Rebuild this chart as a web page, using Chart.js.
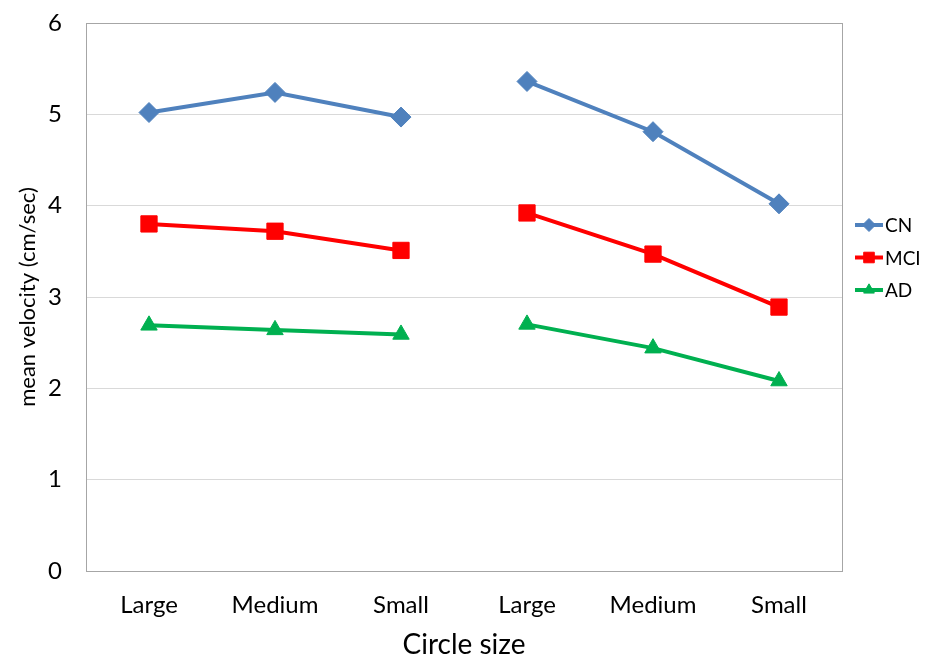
<!DOCTYPE html>
<html>
<head>
<meta charset="utf-8">
<script src="https://cdn.jsdelivr.net/npm/chart.js@4/dist/chart.umd.min.js"></script>
<style>
  html, body { margin: 0; padding: 0; background: #fff; }
  #wrap { width: 931px; height: 659px; position: relative; }
</style>
</head>
<body>
<div id="wrap"><canvas id="c" width="931" height="659"></canvas></div>
<script>
const categories = ["Large", "Medium", "Small", "Large", "Medium", "Small"];
const seriesNames = ["CN", "MCI", "AD"];
const cnValues  = [5.02, 5.24, 4.97, 5.36, 4.81, 4.02];
const mciValues = [3.80, 3.72, 3.51, 3.92, 3.47, 2.89];
const adValues  = [2.69, 2.64, 2.59, 2.70, 2.44, 2.08];
const yTicks = [0, 1, 2, 3, 4, 5, 6];
const xTitle = "Circle size";
const yTitle = "mean velocity (cm/sec)";

const FONT = "Lato, 'Open Sans', sans-serif";
const gapAfterIndex = 2; // lines break between the two groups

function makeDataset(label, data, color, style, radius) {
  return {
    label, data,
    borderColor: color,
    backgroundColor: color,
    pointBackgroundColor: color,
    pointBorderColor: color,
    pointBorderWidth: 1,
    borderWidth: 4,
    pointStyle: style,
    pointRadius: radius,
    pointHoverRadius: radius,
    tension: 0,
    segment: {
      borderColor: ctx => ctx.p0DataIndex === gapAfterIndex ? 'rgba(0,0,0,0)' : color
    }
  };
}

const frame = {
  id: 'frame',
  beforeDatasetsDraw(chart) {
    const a = chart.chartArea, ctx = chart.ctx;
    ctx.save();
    ctx.strokeStyle = '#a6a6a6';
    ctx.lineWidth = 1;
    ctx.strokeRect(Math.round(a.left) + 0.5, Math.round(a.top) + 0.5,
                   Math.round(a.right - a.left), Math.round(a.bottom - a.top));
    ctx.restore();
  }
};

const customLegend = {
  id: 'customLegend',
  afterDraw(chart) {
    const a = chart.chartArea, ctx = chart.ctx;
    const x0 = a.right + 13, lineW = 28, gap = 32.5;
    const y0 = a.top + 202;
    ctx.save();
    chart.data.datasets.forEach((ds, i) => {
      const y = y0 + i * gap;
      ctx.strokeStyle = ds.borderColor;
      ctx.fillStyle = ds.borderColor;
      ctx.lineWidth = 4;
      ctx.beginPath();
      ctx.moveTo(x0, y);
      ctx.lineTo(x0 + lineW, y);
      ctx.stroke();
      ctx.lineWidth = 1;
      Chart.helpers.drawPoint(ctx, {
        pointStyle: ds.pointStyle,
        radius: ds.pointRadius * 0.65,
        rotation: 0,
        borderWidth: 1
      }, x0 + lineW / 2, y);
      ctx.fillStyle = '#000';
      ctx.font = "19px " + FONT;
      ctx.textBaseline = 'middle';
      ctx.textAlign = 'left';
      ctx.fillText(ds.label, x0 + lineW + 2, y + 1);
    });
    ctx.restore();
  }
};

new Chart(document.getElementById('c'), {
  type: 'line',
  data: {
    labels: categories,
    datasets: [
      makeDataset(seriesNames[0], cnValues, '#4F81BD', 'rectRot', 10),
      makeDataset(seriesNames[1], mciValues, '#FF0000', 'rect', 11.5),
      makeDataset(seriesNames[2], adValues, '#00B050', 'triangle', 9.5)
    ]
  },
  options: {
    responsive: false,
    animation: false,
    devicePixelRatio: 1,
    layout: { padding: { left: 0, right: 89, top: 23, bottom: 0 } },
    plugins: {
      legend: { display: false },
      tooltip: { enabled: false },
      title: { display: false }
    },
    scales: {
      x: {
        type: 'category',
        offset: true,
        grid: { display: false, drawTicks: false },
        border: { display: false },
        ticks: { color: '#000', font: { family: FONT, size: 24 }, padding: 20, maxRotation: 0 },
        title: { display: true, text: xTitle, color: '#000', font: { family: FONT, size: 28, lineHeight: 1.0 }, padding: { top: 0, bottom: 0 } },
        afterFit(s) { s.height = 88; }
      },
      y: {
        min: 0, max: 6,
        afterBuildTicks(s) { s.ticks = yTicks.map(v => ({ value: v })); },
        grid: { color: '#d9d9d9', lineWidth: 1, drawTicks: false },
        border: { display: false },
        ticks: { color: '#000', font: { family: FONT, size: 24 }, padding: 24 },
        title: { display: true, text: yTitle, color: '#000', font: { family: FONT, size: 22 }, padding: { top: 15, bottom: 0 } },
        afterFit(s) { s.width = 86; s.paddingTop = 0; s.paddingBottom = 0; }
      }
    }
  },
  plugins: [frame, customLegend]
});
</script>
</body>
</html>
